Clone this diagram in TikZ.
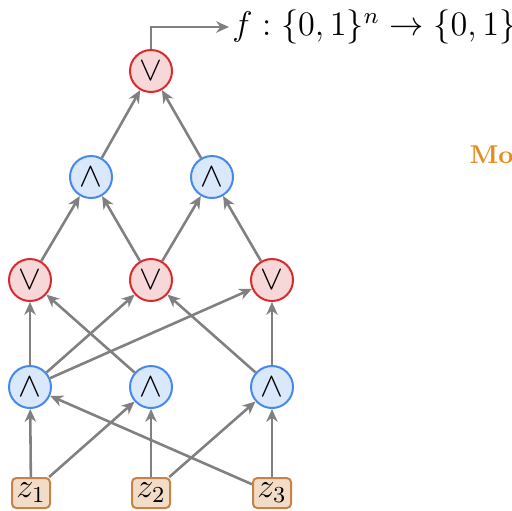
\documentclass[tikz,border=0pt]{standalone}
\usetikzlibrary{arrows.meta}
\definecolor{orfill}{RGB}{248,215,216}
\definecolor{ordraw}{RGB}{218,42,48}
\definecolor{andfill}{RGB}{218,232,252}
\definecolor{anddraw}{RGB}{70,136,236}
\definecolor{zfill}{RGB}{242,220,200}
\definecolor{zdraw}{RGB}{200,130,70}
\definecolor{edgegray}{RGB}{128,128,128}
\definecolor{titleorange}{RGB}{230,140,30}
\begin{document}
\begin{tikzpicture}[x=0.35pt,y=-0.35pt,
  orgate/.style={circle,draw=ordraw,fill=orfill,line width=0.7pt,minimum size=14.7pt,inner sep=0pt,font=\large},
  andgate/.style={circle,draw=anddraw,fill=andfill,line width=0.7pt,minimum size=14.7pt,inner sep=0pt,font=\large},
  inbox/.style={rectangle,rounded corners=1.5pt,draw=zdraw,fill=zfill,line width=0.7pt,minimum width=13.3pt,minimum height=10.5pt,inner sep=0pt,font=\large},
  wire/.style={draw=edgegray,line width=0.9pt,-{Stealth[length=4.5pt,width=4pt]}}]
\useasboundingbox (0,0) rectangle (512,510);
\clip (0,0) rectangle (512,510);
% inputs
\node[inbox] (z1) at (31,493) {$z_1$};
\node[inbox] (z2) at (151,493) {$z_2$};
\node[inbox] (z3) at (272,493) {$z_3$};
% layer 4 (AND)
\node[andgate] (a1) at (30,387) {$\wedge$};
\node[andgate] (a2) at (151,387) {$\wedge$};
\node[andgate] (a3) at (272,387) {$\wedge$};
% layer 3 (OR)
\node[orgate] (o1) at (30,280) {$\vee$};
\node[orgate] (o2) at (151,280) {$\vee$};
\node[orgate] (o3) at (272,280) {$\vee$};
% layer 2 (AND)
\node[andgate] (b1) at (91,177) {$\wedge$};
\node[andgate] (b2) at (212,177) {$\wedge$};
% top (OR)
\node[orgate] (t) at (151,71) {$\vee$};
% output
\node[anchor=west,inner sep=1pt] (out) at (229,27) {\large $f:\{0,1\}^n\to\{0,1\}$};
\coordinate (bend) at (151,27);
\node[anchor=west,inner sep=0pt,text=titleorange,font=\small\bfseries] (mo) at (469,155) {Mo};
% edges
\draw[wire] (z1) -- (a1);
\draw[wire] (z1) -- (a2);
\draw[wire] (z2) -- (a2);
\draw[wire] (z2) -- (a3);
\draw[wire] (z3) -- (a3);
\draw[wire] (z3) -- (a1);
\draw[wire] (a1) -- (o1);
\draw[wire] (a1) -- (o2);
\draw[wire] (a1) -- (o3);
\draw[wire] (a2) -- (o1);
\draw[wire] (a3) -- (o2);
\draw[wire] (a3) -- (o3);
\draw[wire] (o1) -- (b1);
\draw[wire] (o2) -- (b1);
\draw[wire] (o2) -- (b2);
\draw[wire] (o3) -- (b2);
\draw[wire] (b1) -- (t);
\draw[wire] (b2) -- (t);
\draw[wire] (t.north) -- (bend) -- (out.west);
\end{tikzpicture}
\end{document}
